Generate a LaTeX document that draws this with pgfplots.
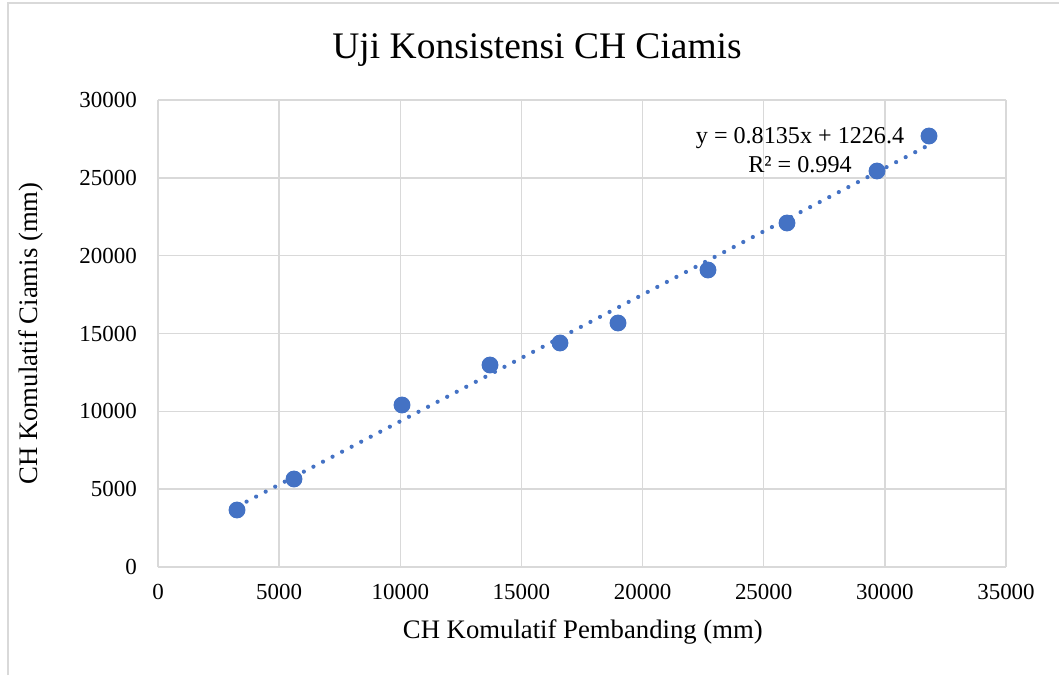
\documentclass[border=0pt]{standalone}
\usepackage{pgfplots}
\pgfplotsset{compat=1.18}
\usepackage{fontspec}
\setmainfont{Liberation Serif}
\definecolor{ptblue}{HTML}{4472C4}
\definecolor{gridgray}{HTML}{D9D9D9}
\begin{document}
\begin{tikzpicture}
\path[use as bounding box] (0,0) rectangle (15.885cm,10.125cm);
\draw[gridgray, line width=0.6pt] (0.12cm,0) -- (0.12cm,10.08cm) -- (15.885cm,10.08cm);
\begin{axis}[
  scale only axis,
  width=12.72cm, height=7.005cm,
  at={(2.37cm,1.62cm)}, anchor=south west,
  xmin=0, xmax=35000, ymin=0, ymax=30000,
  xtick={0,5000,...,35000}, ytick={0,5000,...,30000},
  scaled ticks=false,
  /pgf/number format/assume math mode=true,
  xticklabel style={/pgf/number format/set thousands separator={}, font=\fontsize{9.8}{12}\selectfont, yshift=-4pt},
  yticklabel style={/pgf/number format/set thousands separator={}, font=\fontsize{9.8}{12}\selectfont, xshift=-5.5pt},
  major tick length=0pt,
  grid=major,
  grid style={gridgray, line width=0.6pt},
  axis line style={gridgray, line width=0.6pt},
  axis x line*=bottom, axis y line*=left,
  xlabel={CH Komulatif Pembanding (mm)},
  ylabel={CH Komulatif Ciamis (mm)},
  label style={font=\fontsize{11.4}{14}\selectfont},
  xlabel style={at={(axis description cs:0.501,-0.139)}, anchor=center},
  ylabel style={at={(axis description cs:-0.15,0.5)}, anchor=center, rotate=0},
  title={Uji Konsistensi CH Ciamis},
  title style={font=\fontsize{16}{19}\selectfont, at={(axis description cs:0.447,1.077)}, anchor=center},
  clip=false,
]
% trendline y = 0.8135x + 1226.4
\addplot[ptblue, line width=1.8pt, line cap=round, dash pattern=on 0pt off 4.6pt] coordinates {
  (3261, 3879) (31822, 27113)
};
\addplot[only marks, mark=*, mark size=3.4pt, ptblue, mark options={fill=ptblue, draw=ptblue}] coordinates {
  (3261, 3662) (5613, 5653) (10071, 10407) (13703, 12976) (16592, 14390)
  (18986, 15675) (22700, 19079) (25961, 22099) (29676, 25439) (31822, 27687)
};
\node[align=center, font=\fontsize{10.3}{12.5}\selectfont, inner sep=0pt] at (axis cs:26498,26788)
  {y = 0.8135x + 1226.4\\R² = 0.994};
\end{axis}
\end{tikzpicture}
\end{document}
